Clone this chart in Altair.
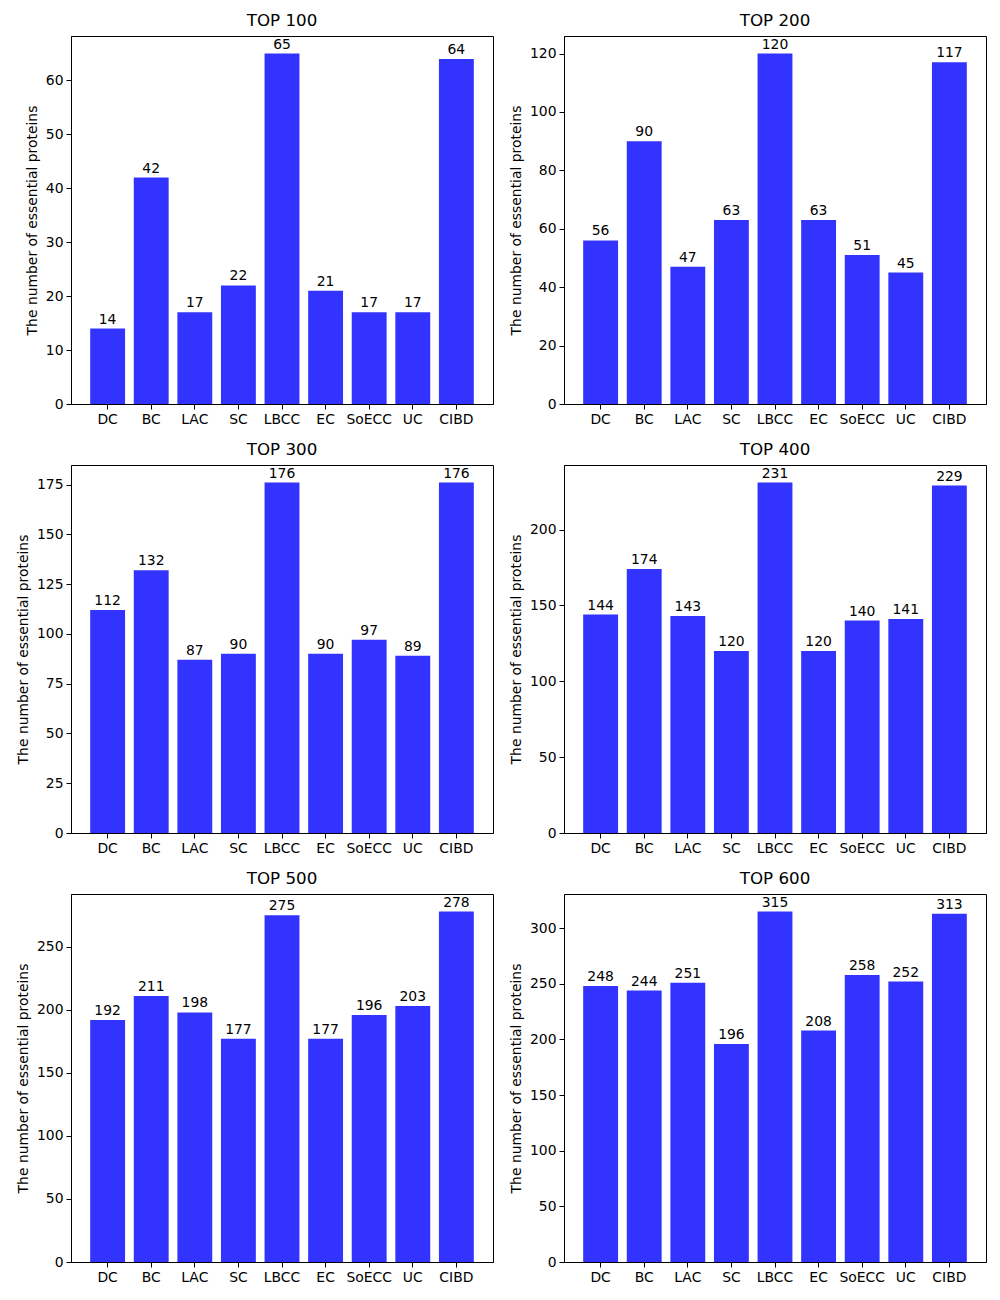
import altair as alt
import pandas as pd

categories = ["DC", "BC", "LAC", "SC", "LBCC", "EC", "SoECC", "UC", "CIBD"]
top100 = [14, 42, 17, 22, 65, 21, 17, 17, 64]
top200 = [56, 90, 47, 63, 120, 63, 51, 45, 117]
top300 = [112, 132, 87, 90, 176, 90, 97, 89, 176]
top400 = [144, 174, 143, 120, 231, 120, 140, 141, 229]
top500 = [192, 211, 198, 177, 275, 177, 196, 203, 278]
top600 = [248, 244, 251, 196, 315, 208, 258, 252, 313]

titles = ["TOP 100", "TOP 200", "TOP 300", "TOP 400", "TOP 500", "TOP 600"]
series = [top100, top200, top300, top400, top500, top600]
ticks = [
    list(range(0, 61, 10)),
    list(range(0, 121, 20)),
    list(range(0, 176, 25)),
    list(range(0, 201, 50)),
    list(range(0, 251, 50)),
    list(range(0, 301, 50)),
]

FONT = "DejaVu Sans"
W, H = 422, 368
FS = 13.9


def panel(title, vals, tv):
    df = pd.DataFrame({"cat": categories, "val": vals})
    ymax = max(vals) * 1.05
    base = alt.Chart(df).encode(
        x=alt.X("cat:N", sort=categories, title=None,
                scale=alt.Scale(paddingInner=0.2, paddingOuter=0.44),
                axis=alt.Axis(labelAngle=0, labelFontSize=FS, labelFont=FONT,
                              labelColor="black", tickColor="black", domainColor="black",
                              tickSize=5, labelPadding=3)),
        y=alt.Y("val:Q", title="The number of essential proteins",
                scale=alt.Scale(domain=[0, ymax], nice=False, zero=True),
                axis=alt.Axis(values=tv, grid=False, labelFontSize=FS, labelFont=FONT,
                              labelColor="black", tickColor="black", domainColor="black",
                              tickSize=5, titleFontSize=FS, titleFont=FONT,
                              titleFontWeight="normal", titleColor="black",
                              labelPadding=3, titlePadding=6)),
    )
    bars = base.mark_bar(color="#3333ff")
    text = base.mark_text(dy=-2, baseline="bottom", fontSize=FS, font=FONT,
                          color="black").encode(text=alt.Text("val:Q"))
    return (bars + text).properties(
        width=W, height=H,
        title=alt.TitleParams(title, fontSize=16.7, font=FONT, fontWeight="normal",
                              color="black", offset=6))


rows = []
for r in range(3):
    rows.append(alt.hconcat(
        panel(titles[2 * r], series[2 * r], ticks[2 * r]),
        panel(titles[2 * r + 1], series[2 * r + 1], ticks[2 * r + 1]),
        spacing=14))

chart = alt.vconcat(*rows, spacing=14).properties(
    padding={"left": 7, "top": 4, "right": 5, "bottom": 5}
).configure_view(stroke="black", strokeWidth=1)

chart.save("out.html", embed_options={"renderer": "svg", "actions": False})
